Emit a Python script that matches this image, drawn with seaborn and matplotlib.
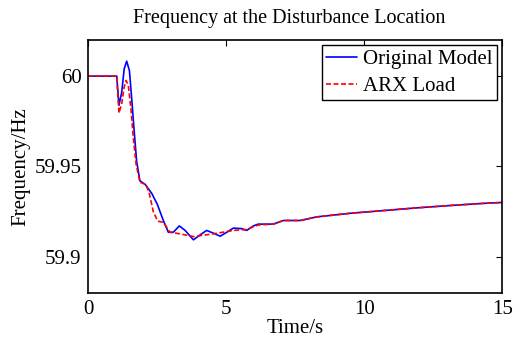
import numpy as np
import pandas as pd
import matplotlib
matplotlib.use("Agg")
import matplotlib.pyplot as plt
import seaborn as sns

# Frequency response at the disturbance bus (s, Hz)
t_orig = [0.0, 1.03, 1.11, 1.21, 1.30, 1.39, 1.49, 1.57, 1.66, 1.75, 1.87, 2.06, 2.30,
          2.50, 2.72, 2.90, 3.08, 3.30, 3.51, 3.81, 4.05, 4.29, 4.53, 4.78, 5.02, 5.26,
          5.56, 5.74, 5.98, 6.16, 6.71, 7.07, 7.68, 8.28, 9.49, 10.70, 11.90, 13.11,
          14.33, 15.0]
f_orig = [60.0, 60.0, 59.9838, 59.991, 60.004, 60.0083, 60.003, 59.988, 59.970, 59.953,
          59.942, 59.940, 59.935, 59.929, 59.920, 59.9135, 59.9135, 59.917, 59.9145,
          59.9093, 59.912, 59.9145, 59.913, 59.9113, 59.9135, 59.9158, 59.9155, 59.9145,
          59.917, 59.918, 59.918, 59.920, 59.920, 59.922, 59.924, 59.9255, 59.927,
          59.9283, 59.9295, 59.930]

t_arx = [0.0, 1.03, 1.11, 1.21, 1.30, 1.37, 1.45, 1.55, 1.63, 1.73, 1.87, 2.09, 2.21,
         2.36, 2.52, 2.72, 2.96, 3.32, 3.81, 4.53, 5.26, 5.74, 5.98, 6.16, 6.71, 7.07,
         7.68, 8.28, 9.49, 10.70, 11.90, 13.11, 14.33, 15.0]
f_arx = [60.0, 60.0, 59.9795, 59.9847, 59.994, 59.9976, 59.9948, 59.981, 59.966,
         59.9514, 59.9412, 59.940, 59.935, 59.9246, 59.9196, 59.919, 59.9135, 59.9126,
         59.9111, 59.9126, 59.9145, 59.915, 59.9165, 59.9175, 59.918, 59.920, 59.920,
         59.922, 59.924, 59.9255, 59.927, 59.9283, 59.9295, 59.930]

x_ticks = [0, 5, 10, 15]
y_ticks = [59.9, 59.95, 60.0]
y_tick_labels = ["59.9", "59.95", "60"]

sns.set_style("white")
plt.rcParams["font.family"] = ["Liberation Serif", "DejaVu Serif"]
plt.rcParams["text.color"] = "black"
plt.rcParams["axes.labelcolor"] = "black"

df = pd.concat([
    pd.DataFrame({"t": t_orig, "f": f_orig, "model": "Original Model"}),
    pd.DataFrame({"t": t_arx, "f": f_arx, "model": "ARX Load"}),
], ignore_index=True)

fig = plt.figure(figsize=(5.15, 3.45), dpi=100)
ax = fig.add_axes([0.1715, 0.1516, 0.975 - 0.1715, 0.884 - 0.1516])

sns.lineplot(data=df, x="t", y="f", hue="model", style="model",
             palette={"Original Model": "#0000ff", "ARX Load": "#ff0000"},
             dashes={"Original Model": "", "ARX Load": (3, 1.5)},
             linewidth=1.2, ax=ax, sort=False, estimator=None)

ax.set_xlim(0, 15)
ax.set_ylim(59.88, 60.02)
ax.set_xticks(x_ticks)
ax.set_xticklabels([str(v) for v in x_ticks])
ax.set_yticks(y_ticks)
ax.set_yticklabels(y_tick_labels)
ax.tick_params(direction="in", length=4, width=0.8, top=True, right=True,
               labelsize=15, pad=5, colors="black")
for s in ax.spines.values():
    s.set_color("black")
    s.set_linewidth(1.2)

ax.set_xlabel("Time/s", fontsize=15, labelpad=0, color="black")
ax.set_ylabel("Frequency/Hz", fontsize=15, labelpad=3, color="black")
ax.set_title("Frequency at the Disturbance Location", fontsize=14.5, pad=12,
             x=0.485, color="black")

leg = ax.legend(loc="upper right", fontsize=15, frameon=True, fancybox=False,
                handlelength=1.5, handletextpad=0.3, borderpad=0.2,
                labelspacing=0.35, borderaxespad=0.25)
leg.get_frame().set_edgecolor("black")
leg.get_frame().set_linewidth(1.0)
leg.get_frame().set_alpha(1)
for txt in leg.get_texts():
    txt.set_color("black")

fig.savefig("out.png", dpi=100)
